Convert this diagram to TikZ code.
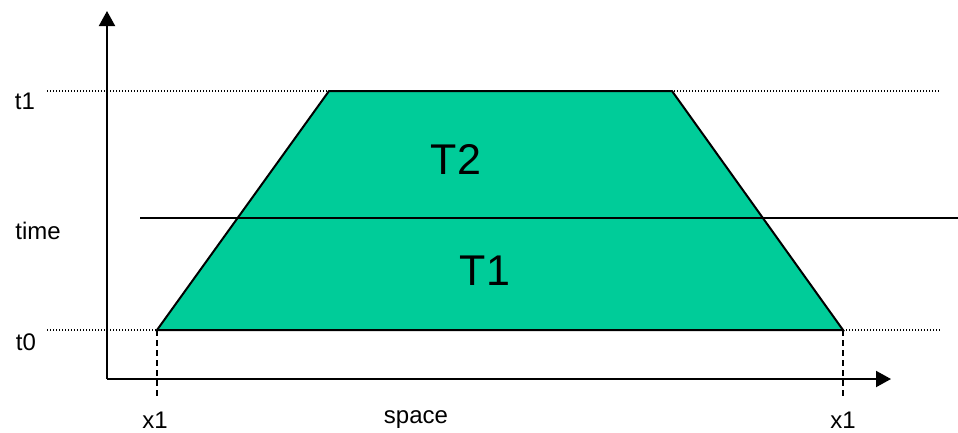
\documentclass[tikz,border=0pt]{standalone}
\usepackage{fontspec}
\setmainfont{Liberation Sans}
\usetikzlibrary{arrows.meta}
\definecolor{trapfill}{RGB}{0,204,153}
\begin{document}
\begin{tikzpicture}[x=1pt,y=-1pt,
  axis/.style={line width=2pt,-{Triangle[length=15pt,width=16pt]}},
  dotline/.style={line width=1.2pt,dash pattern=on 1.2pt off 1.8pt},
  dashline/.style={line width=2pt,dash pattern=on 6pt off 4pt},
  small/.style={inner sep=0pt,font=\fontsize{24}{26}\selectfont},
  big/.style={inner sep=0pt,font=\fontsize{43}{46}\selectfont}]
\useasboundingbox (0,0) rectangle (958,432);
% coordinates
\coordinate (O) at (107,379);
\coordinate (ytip) at (107,11);
\coordinate (xtip) at (891,379);
\coordinate (BL) at (157,330);
\coordinate (BR) at (843,330);
\coordinate (TL) at (329,91);
\coordinate (TR) at (672,91);
\coordinate (d1s) at (47,91);
\coordinate (d1e) at (940,91);
\coordinate (d0s) at (47,330);
\coordinate (d0e) at (941,330);
\coordinate (v1e) at (157,396);
\coordinate (v2e) at (843,396);
\coordinate (ts) at (140,218);
\coordinate (te) at (958,218);
% dotted lines
\draw[dotline] (d1s) -- (d1e);
\draw[dotline] (d0s) -- (BL);
\draw[dotline] (BR) -- (d0e);
% trapezoid
\filldraw[fill=trapfill,draw=black,line width=2pt,line join=miter] (BL) -- (TL) -- (TR) -- (BR) -- cycle;
% time line
\draw[line width=2pt] (ts) -- (te);
% dashed verticals
\draw[dashline] (BL) -- (v1e);
\draw[dashline] (BR) -- (v2e);
% axes
\draw[axis] (O) -- (ytip);
\draw[axis] (O) -- (xtip);
% labels
\node[small] (lt1) at (25,101) {t1};
\node[small] (lt0) at (26,342) {t0};
\node[small] (ltime) at (38,231) {time};
\node[small] (lx1a) at (155,420) {x1};
\node[small] (lx1b) at (843,420) {x1};
\node[small] (lspace) at (416,420) {space};
\node[big] (lT2) at (456,159) {T2};
\node[big] (lT1) at (485,271) {T1};
\end{tikzpicture}
\end{document}
